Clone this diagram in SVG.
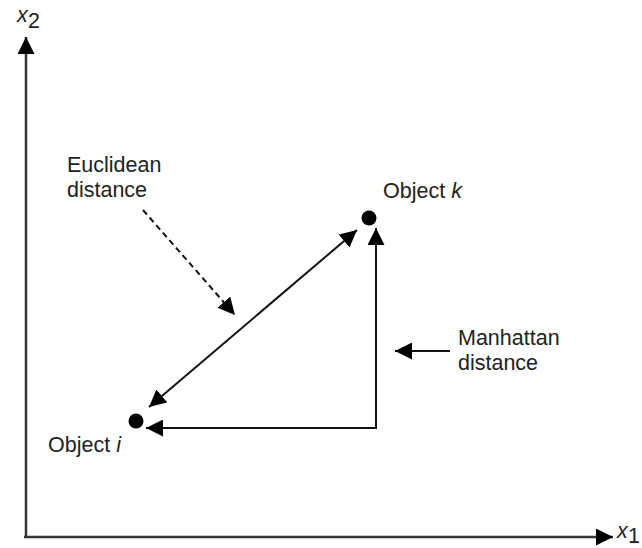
<svg xmlns="http://www.w3.org/2000/svg" width="642" height="548" viewBox="0 0 642 548">
<style>
.t{font-family:"Liberation Sans",Arial,sans-serif;font-size:21.5px;fill:#222}
.ln{stroke:#111;stroke-width:2;fill:none}
.ax{stroke:#333;stroke-width:2.5;fill:none}
</style>
<defs>
<marker id="ahb" viewBox="0 0 10 10" refX="10" refY="5" markerWidth="17" markerHeight="17" markerUnits="userSpaceOnUse" orient="auto-start-reverse">
<path d="M0,0 L10,5 L0,10 z" fill="#000"/>
</marker>
</defs>
<g id="connectors">
<line class="ax" x1="26" y1="538" x2="26" y2="37" marker-end="url(#ahb)"/>
<line class="ax" x1="24" y1="537" x2="613" y2="537" marker-end="url(#ahb)"/>
<line class="ln" x1="376" y1="429" x2="376" y2="228" marker-end="url(#ahb)"/>
<line class="ln" x1="377" y1="428" x2="146" y2="428" marker-end="url(#ahb)"/>
<line class="ln" x1="149" y1="407" x2="357" y2="230" marker-start="url(#ahb)" marker-end="url(#ahb)"/>
<line class="ln" x1="143" y1="210" x2="235" y2="315" stroke-dasharray="6,4" marker-end="url(#ahb)"/>
<line class="ln" x1="450" y1="351" x2="395" y2="351" marker-end="url(#ahb)"/>
</g>
<g id="axis-x2"><text class="t" x="17" y="22" font-style="italic" font-size="20">x</text><text class="t" x="28" y="28" font-size="15">2</text></g>
<g id="axis-x1"><text class="t" x="617" y="538" font-style="italic" font-size="20">x</text><text class="t" x="628" y="543" font-size="13">1</text></g>
<g id="object-k"><circle cx="369" cy="218" r="7.5" fill="#000"/><text class="t" x="383" y="198">Object <tspan font-style="italic">k</tspan></text></g>
<g id="object-i"><circle cx="136" cy="421" r="7.5" fill="#000"/><text class="t" x="48" y="452">Object <tspan font-style="italic">i</tspan></text></g>
<g id="euclidean-label"><text class="t" x="67" y="172">Euclidean</text><text class="t" x="67" y="197">distance</text></g>
<g id="manhattan-label"><text class="t" x="458" y="345">Manhattan</text><text class="t" x="458" y="370">distance</text></g>
</svg>
